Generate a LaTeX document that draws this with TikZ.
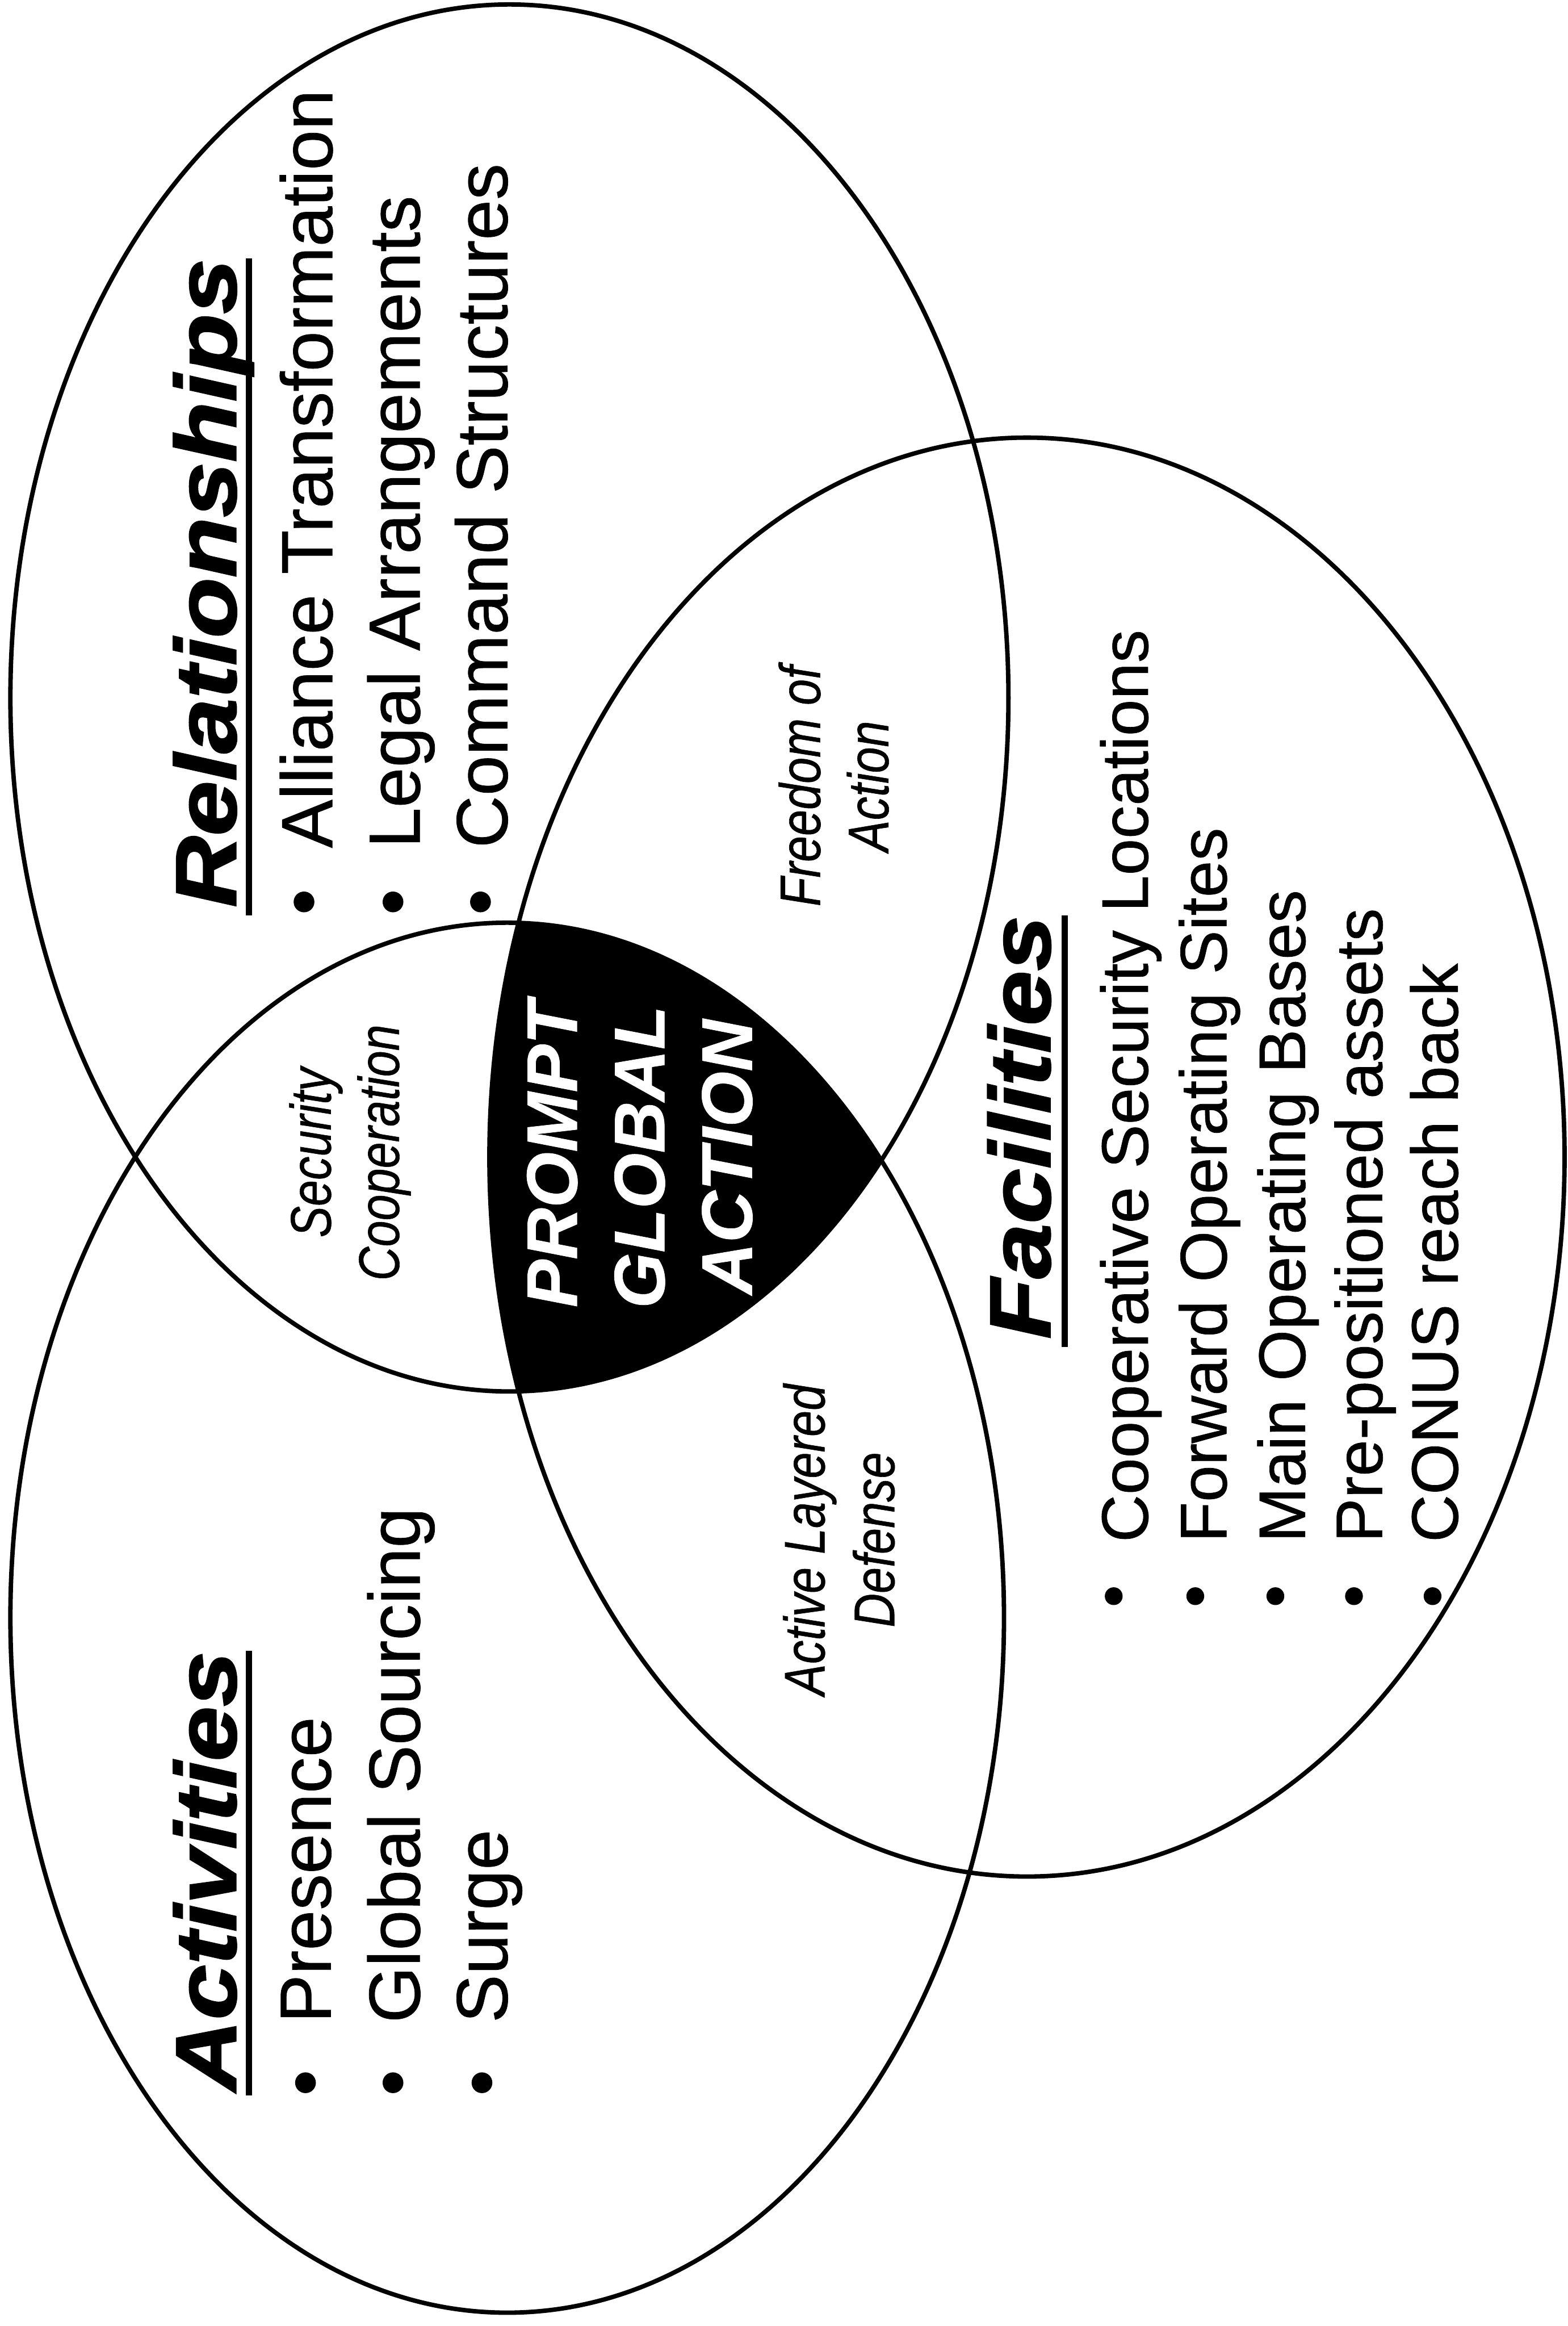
\documentclass[tikz,border=0pt]{standalone}
\usepackage{fontspec}
\setmainfont{Liberation Sans}[FakeBold=0.6]
\newfontfamily\headfont{Liberation Sans}[FakeStretch=1.15,FakeBold=1.8]
\newfontfamily\narrowfont{Liberation Sans}[FakeStretch=0.82,FakeBold=0.6]
\usetikzlibrary{positioning}

\begin{document}
\begin{tikzpicture}[x=0.02cm,y=-0.02cm,
  oval/.style={line width=1.7pt},
  uline/.style={line width=2.4pt},
  headtxt/.style={rotate=90,anchor=base west,inner sep=0pt,font=\headfont\bfseries\itshape\fontsize{33}{40}\selectfont},
  itemtxt/.style={rotate=90,anchor=base west,inner sep=0pt,font=\fontsize{27.8}{33}\selectfont},
  facitem/.style={itemtxt,font=\fontsize{25.3}{30}\selectfont},
  bulletdot/.style={circle,fill,inner sep=0pt,minimum size=0.28cm},
  facdot/.style={bulletdot,minimum size=0.24cm},
  zone/.style={rotate=90,anchor=base,inner sep=0pt,font=\narrowfont\itshape\fontsize{22}{26}\selectfont},
  core/.style={rotate=90,anchor=base,inner sep=0pt,text=white,font=\bfseries\itshape\fontsize{27.5}{33}\selectfont}]
  \fill[white] (0,0) rectangle (1057,1568);
  \useasboundingbox (0,0) rectangle (1057,1568);

  % common part of the three sets
  \begin{scope}
    \clip (343.5,470.5) ellipse [x radius=336.5,y radius=467.5];
    \clip (342,1090.5) ellipse [x radius=335,y radius=468.5];
    \fill (692.5,780) ellipse [x radius=362.5,y radius=485];
  \end{scope}
  \draw[oval] (343.5,470.5) ellipse [x radius=336.5,y radius=467.5];
  \draw[oval] (342,1090.5) ellipse [x radius=335,y radius=468.5];
  \draw[oval] (692.5,780) ellipse [x radius=362.5,y radius=485];

  % Relationships
  \node[headtxt] (relhead) at (159,612) {Relationships};
  \draw[uline] ([xshift=0.18cm,yshift=-0.1cm]relhead.base west) -- ([xshift=0.18cm]relhead.base east);
  \node[bulletdot] (relb1) at (205,608) {};
  \node[bulletdot] (relb2) at (265,608) {};
  \node[bulletdot] (relb3) at (324,608) {};
  \node[itemtxt] (rel1) at (224,572) {Alliance Transformation};
  \node[itemtxt] (rel2) at (283,572) {Legal Arrangements};
  \node[itemtxt] (rel3) at (342,572) {Command Structures};

  % Activities
  \node[headtxt] (acthead) at (159,1410) {Activities};
  \draw[uline] ([xshift=0.18cm,yshift=-0.05cm]acthead.base west) -- ([xshift=0.18cm]acthead.base east);
  \node[bulletdot] (actb1) at (206,1404) {};
  \node[bulletdot] (actb2) at (265,1404) {};
  \node[bulletdot] (actb3) at (325,1404) {};
  \node[itemtxt] (act1) at (223,1364) {Presence};
  \node[itemtxt] (act2) at (283,1364) {Global Sourcing};
  \node[itemtxt] (act3) at (342,1364) {Surge};

  % Facilities
  \node[headtxt] (fachead) at (708,903) {Facilities};
  \draw[uline] ([xshift=0.2cm,yshift=-0.1cm]fachead.base west) -- ([xshift=0.2cm]fachead.base east);
  \foreach \i/\x in {1/751,2/806,3/860,4/913,5/966}
    \node[facdot] (facb\i) at (\x,1076) {};
  \node[facitem] (fac1) at (774,1040) {Cooperative Security Locations};
  \node[facitem] (fac2) at (827,1040) {Forward Operating Sites};
  \node[facitem] (fac3) at (880,1040) {Main Operating Bases};
  \node[facitem] (fac4) at (932,1040) {Pre-positioned assets};
  \node[facitem] (fac5) at (983,1040) {CONUS reach back};

  % overlaps
  \node[zone] (seca) at (223,777) {Security};
  \node[zone] (secb) at (269,777) {Cooperation};
  \node[zone] (frea) at (553,530) {Freedom of};
  \node[zone] (freb) at (599,530) {Action};
  \node[zone] (alda) at (556,1038) {Active Layered};
  \node[zone] (aldb) at (603,1038) {Defense};

  \node[core] (pga1) at (389,778) {PROMPT};
  \node[core] (pga2) at (448,780) {GLOBAL};
  \node[core] (pga3) at (507,780) {ACTION};
\end{tikzpicture}
\end{document}
